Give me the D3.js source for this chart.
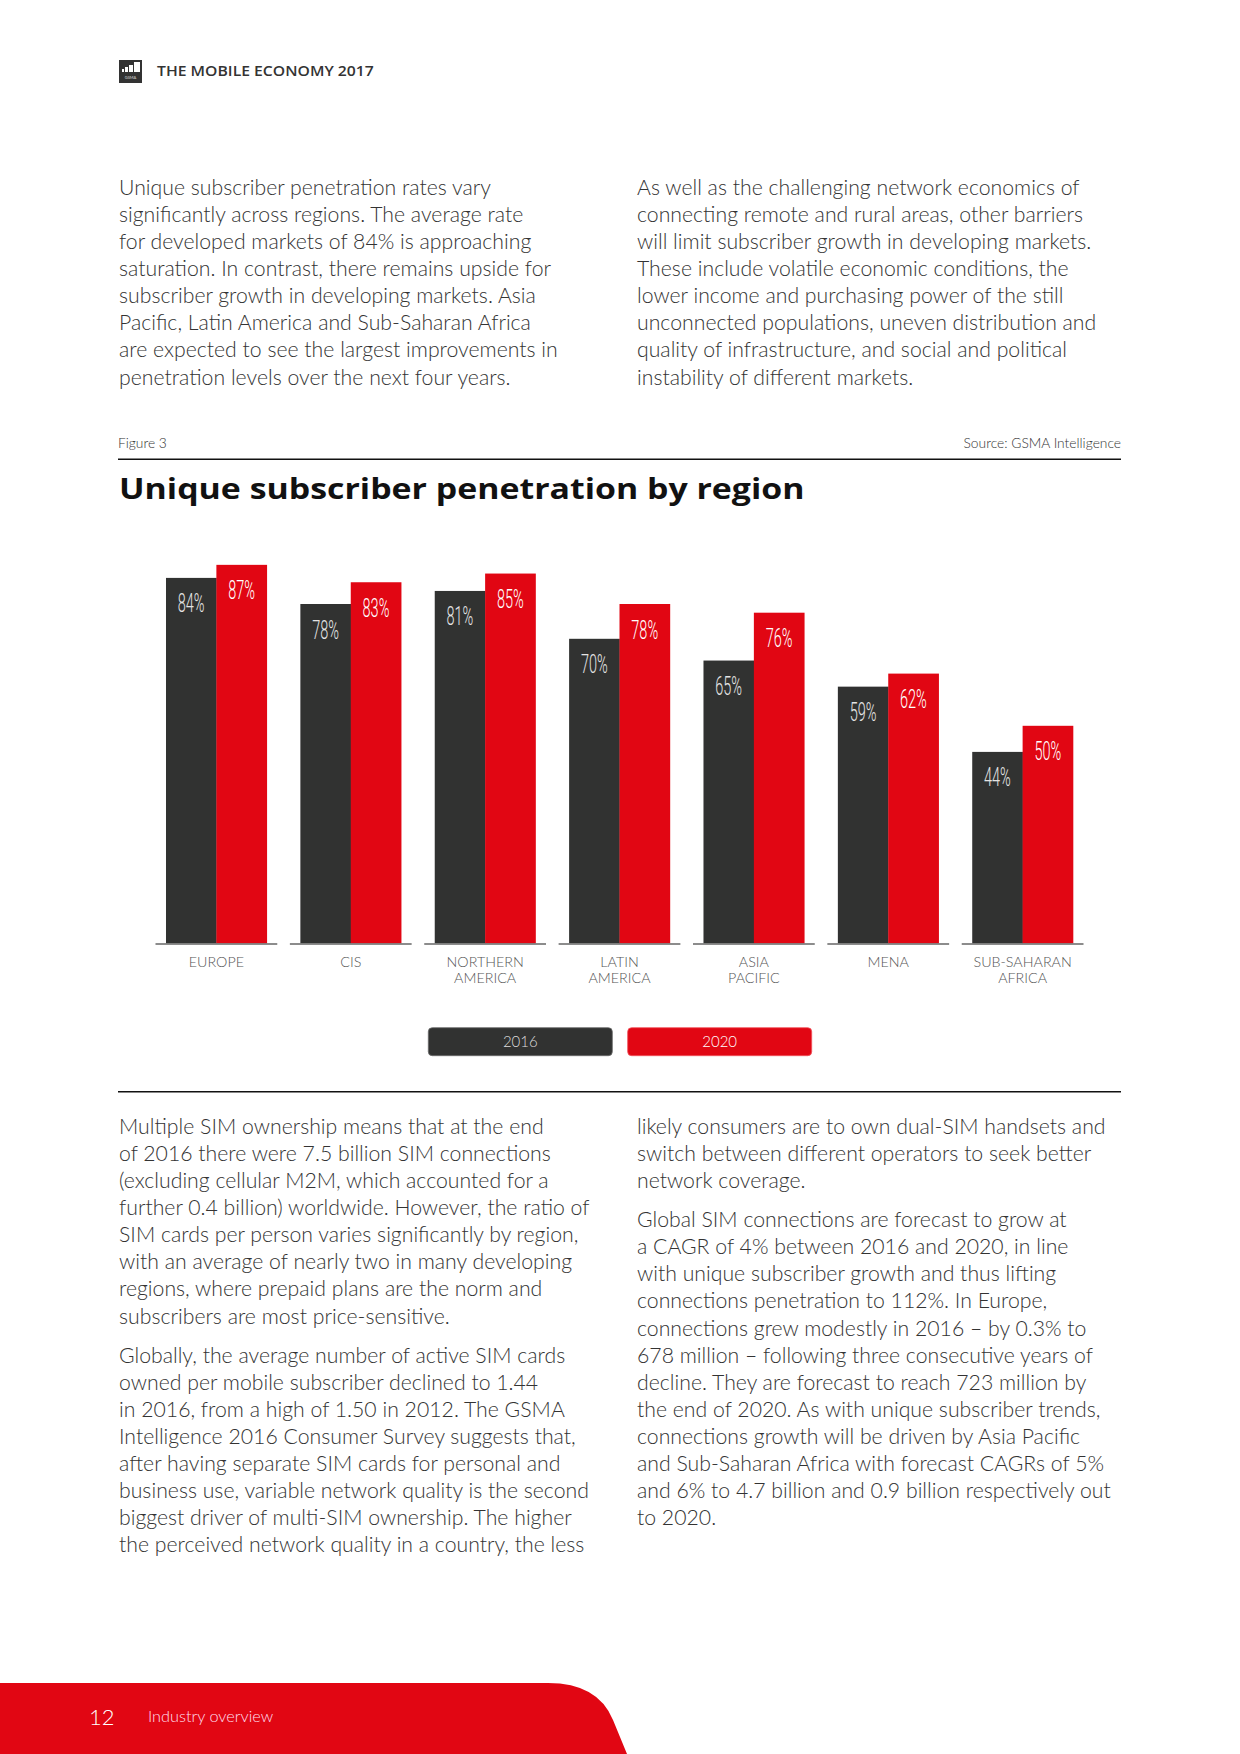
<!DOCTYPE html>
<html>
<head>
<meta charset="utf-8">
<script src="https://cdn.jsdelivr.net/npm/d3@7"></script>
<style>
  body { margin: 0; background: #fff; }
  svg { display: block; }
</style>
</head>
<body>
<svg width="1240" height="1754"></svg>
<script>
// chart data
const regions = ["EUROPE", "CIS", "NORTHERN AMERICA", "LATIN AMERICA", "ASIA PACIFIC", "MENA", "SUB-SAHARAN AFRICA"];
const pen2016 = [84, 78, 81, 70, 65, 59, 44];
const pen2020 = [87, 83, 85, 78, 76, 62, 50];
const years = ["2016", "2020"];
const yearColors = ["#313231", "#e10613"];

// page text
const introLeft = [
  "Unique subscriber penetration rates vary",
  "significantly across regions. The average rate",
  "for developed markets of 84% is approaching",
  "saturation. In contrast, there remains upside for",
  "subscriber growth in developing markets. Asia",
  "Pacific, Latin America and Sub-Saharan Africa",
  "are expected to see the largest improvements in",
  "penetration levels over the next four years."
];
const introRight = [
  "As well as the challenging network economics of",
  "connecting remote and rural areas, other barriers",
  "will limit subscriber growth in developing markets.",
  "These include volatile economic conditions, the",
  "lower income and purchasing power of the still",
  "unconnected populations, uneven distribution and",
  "quality of infrastructure, and social and political",
  "instability of different markets."
];
const bodyLeft = [[
  "Multiple SIM ownership means that at the end",
  "of 2016 there were 7.5 billion SIM connections",
  "(excluding cellular M2M, which accounted for a",
  "further 0.4 billion) worldwide. However, the ratio of",
  "SIM cards per person varies significantly by region,",
  "with an average of nearly two in many developing",
  "regions, where prepaid plans are the norm and",
  "subscribers are most price-sensitive."
], [
  "Globally, the average number of active SIM cards",
  "owned per mobile subscriber declined to 1.44",
  "in 2016, from a high of 1.50 in 2012. The GSMA",
  "Intelligence 2016 Consumer Survey suggests that,",
  "after having separate SIM cards for personal and",
  "business use, variable network quality is the second",
  "biggest driver of multi-SIM ownership. The higher",
  "the perceived network quality in a country, the less"
]];
const bodyRight = [[
  "likely consumers are to own dual-SIM handsets and",
  "switch between different operators to seek better",
  "network coverage."
], [
  "Global SIM connections are forecast to grow at",
  "a CAGR of 4% between 2016 and 2020, in line",
  "with unique subscriber growth and thus lifting",
  "connections penetration to 112%. In Europe,",
  "connections grew modestly in 2016 \u2013 by 0.3% to",
  "678 million \u2013 following three consecutive years of",
  "decline. They are forecast to reach 723 million by",
  "the end of 2020. As with unique subscriber trends,",
  "connections growth will be driven by Asia Pacific",
  "and Sub-Saharan Africa with forecast CAGRs of 5%",
  "and 6% to 4.7 billion and 0.9 billion respectively out",
  "to 2020."
]];

const svg = d3.select("svg");
const left = 118, right = 1121, col2 = 637;
const lineH = 27.08, paraGap = 12;
const textColor = "#333";

// scale a text horizontally so it covers the width it has in the print layout
function fitX(sel, target) {
  const w = sel.node().getComputedTextLength();
  return target / w;
}

// header
const logo = svg.append("g").attr("transform", "translate(119,60)");
logo.append("rect").attr("width", 23).attr("height", 23).attr("fill", "#333");
[[3, 9, 2, 3], [6, 7, 3, 5], [10, 5, 4, 7], [15, 2, 6, 10]].forEach(b => {
  logo.append("rect").attr("x", b[0]).attr("y", b[1]).attr("width", b[2]).attr("height", b[3]).attr("fill", "#fff");
});
logo.append("text").attr("x", 11.5).attr("y", 18.5).attr("text-anchor", "middle")
  .attr("font-family", "Lato").attr("font-size", 4).attr("fill", "#ddd").text("GSMA");

const header = svg.append("text")
  .attr("font-family", "Open Sans").attr("font-weight", 600).attr("font-size", 14)
  .attr("fill", "#333").text("THE MOBILE ECONOMY 2017");
header.attr("transform", `translate(157,76) scale(${fitX(header, 217)},1)`);

// paragraphs
const bodySize = 22.5;
const probe = svg.append("text").attr("font-family", "Lato").attr("font-weight", 300)
  .attr("font-size", bodySize).text(introLeft[0]);
const bodySx = fitX(probe, 372);
probe.remove();

function drawParas(paras, x, y0) {
  let y = y0;
  paras.forEach(lines => {
    const t = svg.append("text")
      .attr("transform", `translate(${x},${y}) scale(${bodySx},1)`)
      .attr("font-family", "Lato").attr("font-weight", 300)
      .attr("font-size", bodySize).attr("fill", textColor);
    t.selectAll("tspan").data(lines).join("tspan")
      .attr("x", 0).attr("y", (d, i) => i * lineH).text(d => d);
    y += lines.length * lineH + paraGap;
  });
}
drawParas([introLeft], 119, 195);
drawParas([introRight], col2, 195);
drawParas(bodyLeft, 119, 1134);
drawParas(bodyRight, col2, 1134);

// figure caption and rules
svg.append("text").attr("x", left).attr("y", 448)
  .attr("font-family", "Lato").attr("font-weight", 300).attr("font-size", 13.8)
  .attr("fill", "#333").text("Figure 3");
svg.append("text").attr("x", right).attr("y", 448).attr("text-anchor", "end")
  .attr("font-family", "Lato").attr("font-weight", 300).attr("font-size", 13.8)
  .attr("fill", "#333").text("Source: GSMA Intelligence");
svg.append("line").attr("x1", left).attr("x2", right).attr("y1", 459.3).attr("y2", 459.3)
  .attr("stroke", "#111").attr("stroke-width", 1.4);
svg.append("line").attr("x1", left).attr("x2", right).attr("y1", 1091.7).attr("y2", 1091.7)
  .attr("stroke", "#111").attr("stroke-width", 1.4);

const title = svg.append("text")
  .attr("font-family", "Open Sans").attr("font-weight", 700).attr("font-size", 29)
  .attr("fill", "#111").text("Unique subscriber penetration by region");
title.attr("transform", `translate(119,498.5) scale(${fitX(title, 686)},1)`);

// chart
const data = regions.map((r, i) => ({ region: r, values: [pen2016[i], pen2020[i]] }));
const baseY = 943.3;
const x0 = d3.scaleBand().domain(regions).range([149.2, 1089.8])
  .paddingInner(0.25).paddingOuter(0.125);
const x1 = d3.scaleBand().domain(years).range([0, x0.bandwidth()]);
const y = d3.scaleLinear().domain([0, 100]).range([baseY, baseY - 435]);

const chart = svg.append("g");
const groups = chart.selectAll("g.region").data(data).join("g")
  .attr("class", "region")
  .attr("transform", d => `translate(${x0(d.region)},0)`);

const bars = groups.selectAll("g.bar")
  .data(d => d.values.map((v, j) => ({ year: years[j], v: v, j: j })))
  .join("g").attr("class", "bar");

bars.append("rect")
  .attr("x", d => x1(d.year))
  .attr("y", d => y(d.v))
  .attr("width", x1.bandwidth() + 0.3)
  .attr("height", d => baseY - y(d.v))
  .attr("fill", d => yearColors[d.j]);

bars.append("text")
  .attr("transform", d => `translate(${x1(d.year) + x1.bandwidth() / 2},${y(d.v) + 34.5}) scale(0.58,1)`)
  .attr("text-anchor", "middle")
  .attr("font-family", "Roboto").attr("font-weight", 300).attr("font-size", 25)
  .attr("fill", d => d.j === 0 ? "#e4e4e4" : "#fff")
  .text(d => d.v + "%");

// baseline segments under each region
groups.append("line")
  .attr("x1", -10.5).attr("x2", x0.bandwidth() + 10.5)
  .attr("y1", baseY + 0.6).attr("y2", baseY + 0.6)
  .attr("stroke", "#666").attr("stroke-width", 1.5);

const xAxisG = chart.append("g").attr("transform", `translate(0,${baseY})`)
  .call(d3.axisBottom(x0).tickSize(0));
xAxisG.select(".domain").remove();
xAxisG.selectAll(".tick text").each(function(d) {
  const t = d3.select(this).attr("y", 0).attr("dy", null).text(null)
    .attr("font-family", "Lato").attr("font-weight", 300).attr("font-size", 14.3)
    .attr("fill", "#555");
  d.split(" ").forEach((w, i) => {
    t.append("tspan").attr("x", 0).attr("y", 23.4 + i * 16.7).text(w);
  });
});

// legend
const legX = d3.scaleBand().domain(years).range([428.3, 811.7]).paddingInner(0.077);
const legend = svg.append("g").selectAll("g").data(years).join("g")
  .attr("transform", d => `translate(${legX(d)},1027.7)`);
legend.append("rect")
  .attr("width", legX.bandwidth()).attr("height", 28)
  .attr("rx", 4).attr("ry", 4)
  .attr("fill", (d, i) => yearColors[i])
  .attr("stroke", (d, i) => i === 0 ? "#6a6a6a" : "#f0505a").attr("stroke-width", 0.8);
legend.append("text")
  .attr("x", legX.bandwidth() / 2).attr("y", 19.6).attr("text-anchor", "middle")
  .attr("font-family", "Lato").attr("font-weight", 300).attr("font-size", 15)
  .attr("fill", (d, i) => i === 0 ? "#ddd" : "#fff")
  .text(d => d);

// footer
const p = d3.path();
p.moveTo(0, 1683);
p.lineTo(548, 1683);
p.quadraticCurveTo(598, 1683, 613, 1720);
p.lineTo(627, 1754);
p.lineTo(0, 1754);
p.closePath();
svg.append("path").attr("d", p.toString()).attr("fill", "#e10613");
svg.append("text").attr("x", 89).attr("y", 1725)
  .attr("font-family", "Lato").attr("font-weight", 300).attr("font-size", 22)
  .attr("fill", "#fff").text("12");
svg.append("text").attr("x", 148).attr("y", 1722)
  .attr("font-family", "Lato").attr("font-weight", 300).attr("font-size", 16.3)
  .attr("fill", "#fde").text("Industry overview");
</script>
</body>
</html>
